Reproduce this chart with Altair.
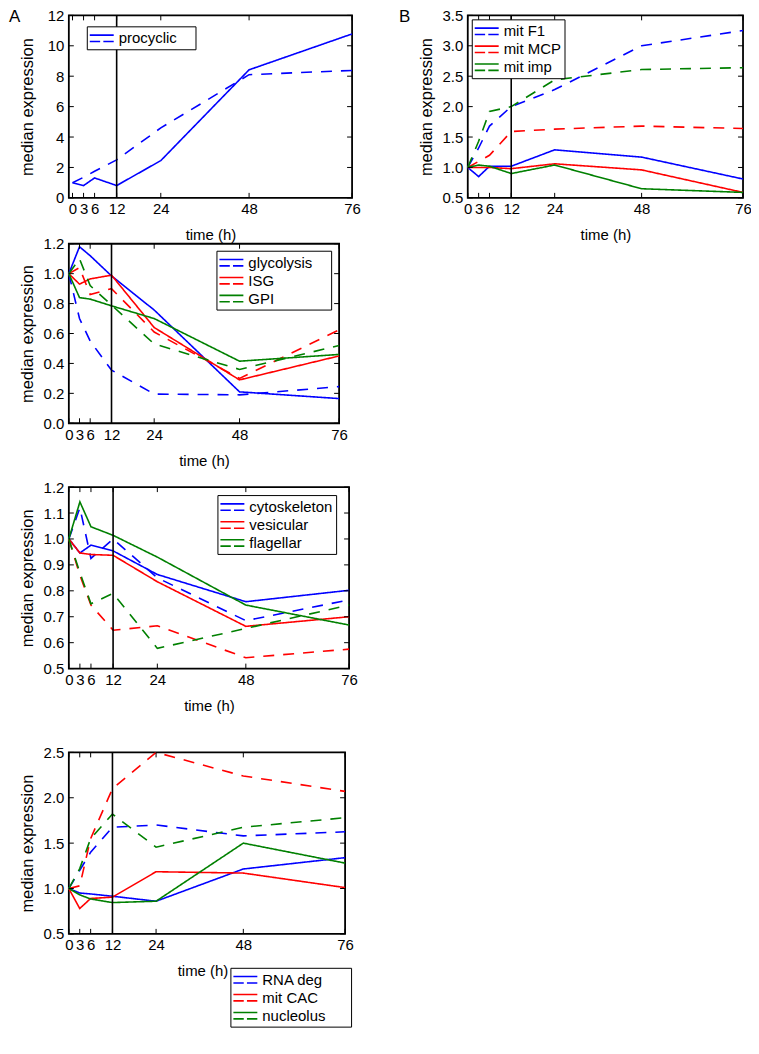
import altair as alt
import pandas as pd

FONT = "Liberation Sans"
T = [0, 3, 6, 12, 24, 48, 76]
X_TICKS = [0, 3, 6, 12, 24, 48, 76]
BLUE, RED, GREEN = "#0000ff", "#ff0000", "#008000"
COLORS3 = [BLUE, RED, GREEN]

# Panel A
A_NAMES = ["procyclic"]
A_SOLID = [[1.0, 0.81, 1.31, 0.81, 2.45, 8.42, 10.78]]
A_DASHED = [[1.0, 1.35, 1.75, 2.5, 4.6, 8.1, 8.38]]
A_YTICKS = [0, 2, 4, 6, 8, 10, 12]

# Panel B
B_NAMES = ["mit F1", "mit MCP", "mit imp"]
B_SOLID = [
    [1.0, 0.85, 1.02, 1.02, 1.29, 1.17, 0.81],
    [1.0, 1.0, 1.0, 0.98, 1.06, 0.96, 0.59],
    [1.0, 1.04, 1.02, 0.90, 1.04, 0.65, 0.59],
]
B_DASHED = [
    [1.0, 1.32, 1.68, 2.0, 2.28, 3.0, 3.25],
    [1.0, 1.10, 1.20, 1.59, 1.63, 1.68, 1.64],
    [1.0, 1.43, 1.92, 2.0, 2.44, 2.61, 2.64],
]
B_YTICKS = [0.5, 1.0, 1.5, 2.0, 2.5, 3.0, 3.5]

# Panel 2
C_NAMES = ["glycolysis", "ISG", "GPI"]
C_SOLID = [
    [1.0, 1.18, 1.12, 0.985, 0.757, 0.21, 0.165],
    [1.0, 0.93, 0.965, 0.99, 0.64, 0.29, 0.45],
    [1.0, 0.84, 0.83, 0.785, 0.70, 0.415, 0.46],
]
C_DASHED = [
    [1.0, 0.70, 0.55, 0.355, 0.195, 0.19, 0.245],
    [1.0, 1.04, 0.86, 0.90, 0.61, 0.30, 0.625],
    [1.0, 1.10, 0.92, 0.79, 0.53, 0.36, 0.52],
]
C_YTICKS = [0.0, 0.2, 0.4, 0.6, 0.8, 1.0, 1.2]

# Panel 3
D_NAMES = ["cytoskeleton", "vesicular", "flagellar"]
D_SOLID = [
    [1.0, 0.946, 0.976, 0.954, 0.863, 0.758, 0.802],
    [1.0, 0.946, 0.94, 0.937, 0.835, 0.663, 0.70],
    [1.0, 1.143, 1.047, 1.014, 0.93, 0.745, 0.668],
]
D_DASHED = [
    [1.0, 1.12, 0.925, 1.0, 0.85, 0.685, 0.765],
    [1.0, 0.86, 0.745, 0.648, 0.665, 0.542, 0.575],
    [1.0, 0.87, 0.75, 0.79, 0.578, 0.655, 0.745],
]
D_YTICKS = [0.5, 0.6, 0.7, 0.8, 0.9, 1.0, 1.1, 1.2]

# Panel 4
E_NAMES = ["RNA deg", "mit CAC", "nucleolus"]
E_SOLID = [
    [1.0, 0.95, 0.94, 0.915, 0.86, 1.215, 1.34],
    [1.0, 0.78, 0.89, 0.905, 1.185, 1.17, 1.01],
    [1.0, 0.93, 0.885, 0.845, 0.86, 1.50, 1.28],
]
E_DASHED = [
    [1.0, 1.2, 1.4, 1.675, 1.70, 1.58, 1.625],
    [1.0, 1.03, 1.55, 2.1, 2.5, 2.24, 2.07],
    [1.0, 1.22, 1.55, 1.82, 1.455, 1.675, 1.78],
]
E_YTICKS = [0.5, 1.0, 1.5, 2.0, 2.5]

SYMBOL = "M-1.5,-0.4L1.5,-0.4M-1.5,0.4L-0.2,0.4M0.2,0.4L1.5,0.4"


def panel(names, colors, solid, dashed, xdom, ydom, yticks, yfmt, w, h,
          lx, ly, npad, letter=None, letter_x=0, xtitle_x=None):
    rows = []
    for n, sv, dv in zip(names, solid, dashed):
        for t, v in zip(T, sv):
            rows.append({"t": t, "v": v, "s": n, "k": "solid"})
        for t, v in zip(T, dv):
            rows.append({"t": t, "v": v, "s": n, "k": "dashed"})
    df = pd.DataFrame(rows)

    xaxis_kw = dict(values=X_TICKS, title="time (h)", titleY=37,
                    titleBaseline="middle", titleFontSize=15,
                    labelPadding=4, labelFlush=False, labelOverlap=False, format="d")
    if xtitle_x is not None:
        xaxis_kw["titleX"] = xtitle_x
    X = alt.X("t:Q", scale=alt.Scale(domain=xdom, nice=False, zero=False),
              axis=alt.Axis(**xaxis_kw))
    Y = alt.Y("v:Q", scale=alt.Scale(domain=ydom, nice=False, zero=False),
              axis=alt.Axis(values=yticks, title="median expression", titleX=-41,
                            titleBaseline="middle", titleFontSize=16.5,
                            labelPadding=5, labelFlush=False, labelOverlap=False,
                            format=yfmt))
    leg_kw = dict(orient="none", legendX=lx, legendY=ly,
                  symbolType=SYMBOL, symbolSize=256, symbolStrokeWidth=1.6,
                  symbolFillColor="transparent", symbolOffset=3, labelOffset=8,
                  labelFont=FONT, labelFontSize=15, labelColor="black",
                  padding=3, rowPadding=1, strokeColor="black", fillColor="white")
    if npad > 0:
        # invisible spacer title on the right widens the legend frame
        leg_kw.update(title="W" * npad, titleOrient="right", titleColor="transparent",
                      titleFontSize=8, titlePadding=0)
    else:
        leg_kw.update(title=None)
    lines = alt.Chart(df).mark_line(strokeWidth=1.6).encode(
        x=X, y=Y,
        color=alt.Color("s:N", scale=alt.Scale(domain=names, range=colors),
                        legend=alt.Legend(**leg_kw)),
        strokeDash=alt.StrokeDash("k:N", scale=alt.Scale(domain=["solid", "dashed"],
                                                         range=[[1, 0], [11, 9]]),
                                  legend=None),
    )
    vline = alt.Chart(pd.DataFrame({"t": [12]})).mark_rule(
        color="black", strokeWidth=1.6).encode(x=X)
    xt = alt.Chart(pd.DataFrame({"t": X_TICKS}))
    xt_b = xt.mark_rule(color="black", strokeWidth=1).encode(
        x=X, y=alt.value(h), y2=alt.value(h - 5))
    xt_t = xt.mark_rule(color="black", strokeWidth=1).encode(
        x=X, y=alt.value(0), y2=alt.value(5))
    yt = alt.Chart(pd.DataFrame({"v": yticks}))
    yt_l = yt.mark_rule(color="black", strokeWidth=1).encode(
        y=Y, x=alt.value(0), x2=alt.value(5))
    yt_r = yt.mark_rule(color="black", strokeWidth=1).encode(
        y=Y, x=alt.value(w - 5), x2=alt.value(w))
    layers = [lines, vline, xt_b, xt_t, yt_l, yt_r]
    if letter:
        lt = alt.Chart(pd.DataFrame({"lab": [letter]})).mark_text(
            align="left", baseline="top", fontSize=17, font=FONT, color="black"
        ).encode(text="lab:N", x=alt.value(letter_x), y=alt.value(-6))
        layers.append(lt)
    return alt.layer(*layers).properties(width=w, height=h)


pA = panel(A_NAMES, [BLUE], A_SOLID, A_DASHED, [-1, 76], [0, 12], A_YTICKS, "d",
           284, 183, 18, 11, 2, letter="A", letter_x=-60)
pB = panel(B_NAMES, COLORS3, B_SOLID, B_DASHED, [0, 76], [0.5, 3.5], B_YTICKS, ".1f",
           276, 183, 4, 4, 0, letter="B", letter_x=-69)
pC = panel(C_NAMES, COLORS3, C_SOLID, C_DASHED, [0, 76], [0, 1.2], C_YTICKS, ".1f",
           271, 180, 148, 7, 2)
pD = panel(D_NAMES, COLORS3, D_SOLID, D_DASHED, [0, 76], [0.5, 1.2], D_YTICKS, ".1f",
           281, 182, 149, 8, 0)
pE = panel(E_NAMES, COLORS3, E_SOLID, E_DASHED, [0, 76], [0.5, 2.5], E_YTICKS, ".1f",
           277, 182, 162, 216, 3, xtitle_x=134)


def ind(c):
    return c.resolve_scale(color="independent", strokeDash="independent").resolve_legend(
        color="independent", strokeDash="independent")


row1 = ind(alt.hconcat(pA, pB, spacing=36))
l1 = ind(alt.vconcat(row1, pC, spacing=-8))
l2 = ind(alt.vconcat(l1, pD, spacing=10))
l3 = ind(alt.vconcat(l2, pE, spacing=30))

chart = l3.properties(
    autosize=alt.AutoSizeParams(type="none"),
    padding={"left": 61, "top": 6, "right": 684, "bottom": 1022},
).configure_view(
    stroke="black", strokeWidth=1.8
).configure_axis(
    labelFont=FONT, titleFont=FONT, labelColor="black", titleColor="black",
    labelFontSize=15, titleFontWeight="normal", grid=False, domain=False,
    ticks=False, tickSize=0
)

chart.save("out.html", embed_options={"renderer": "svg", "actions": False})
